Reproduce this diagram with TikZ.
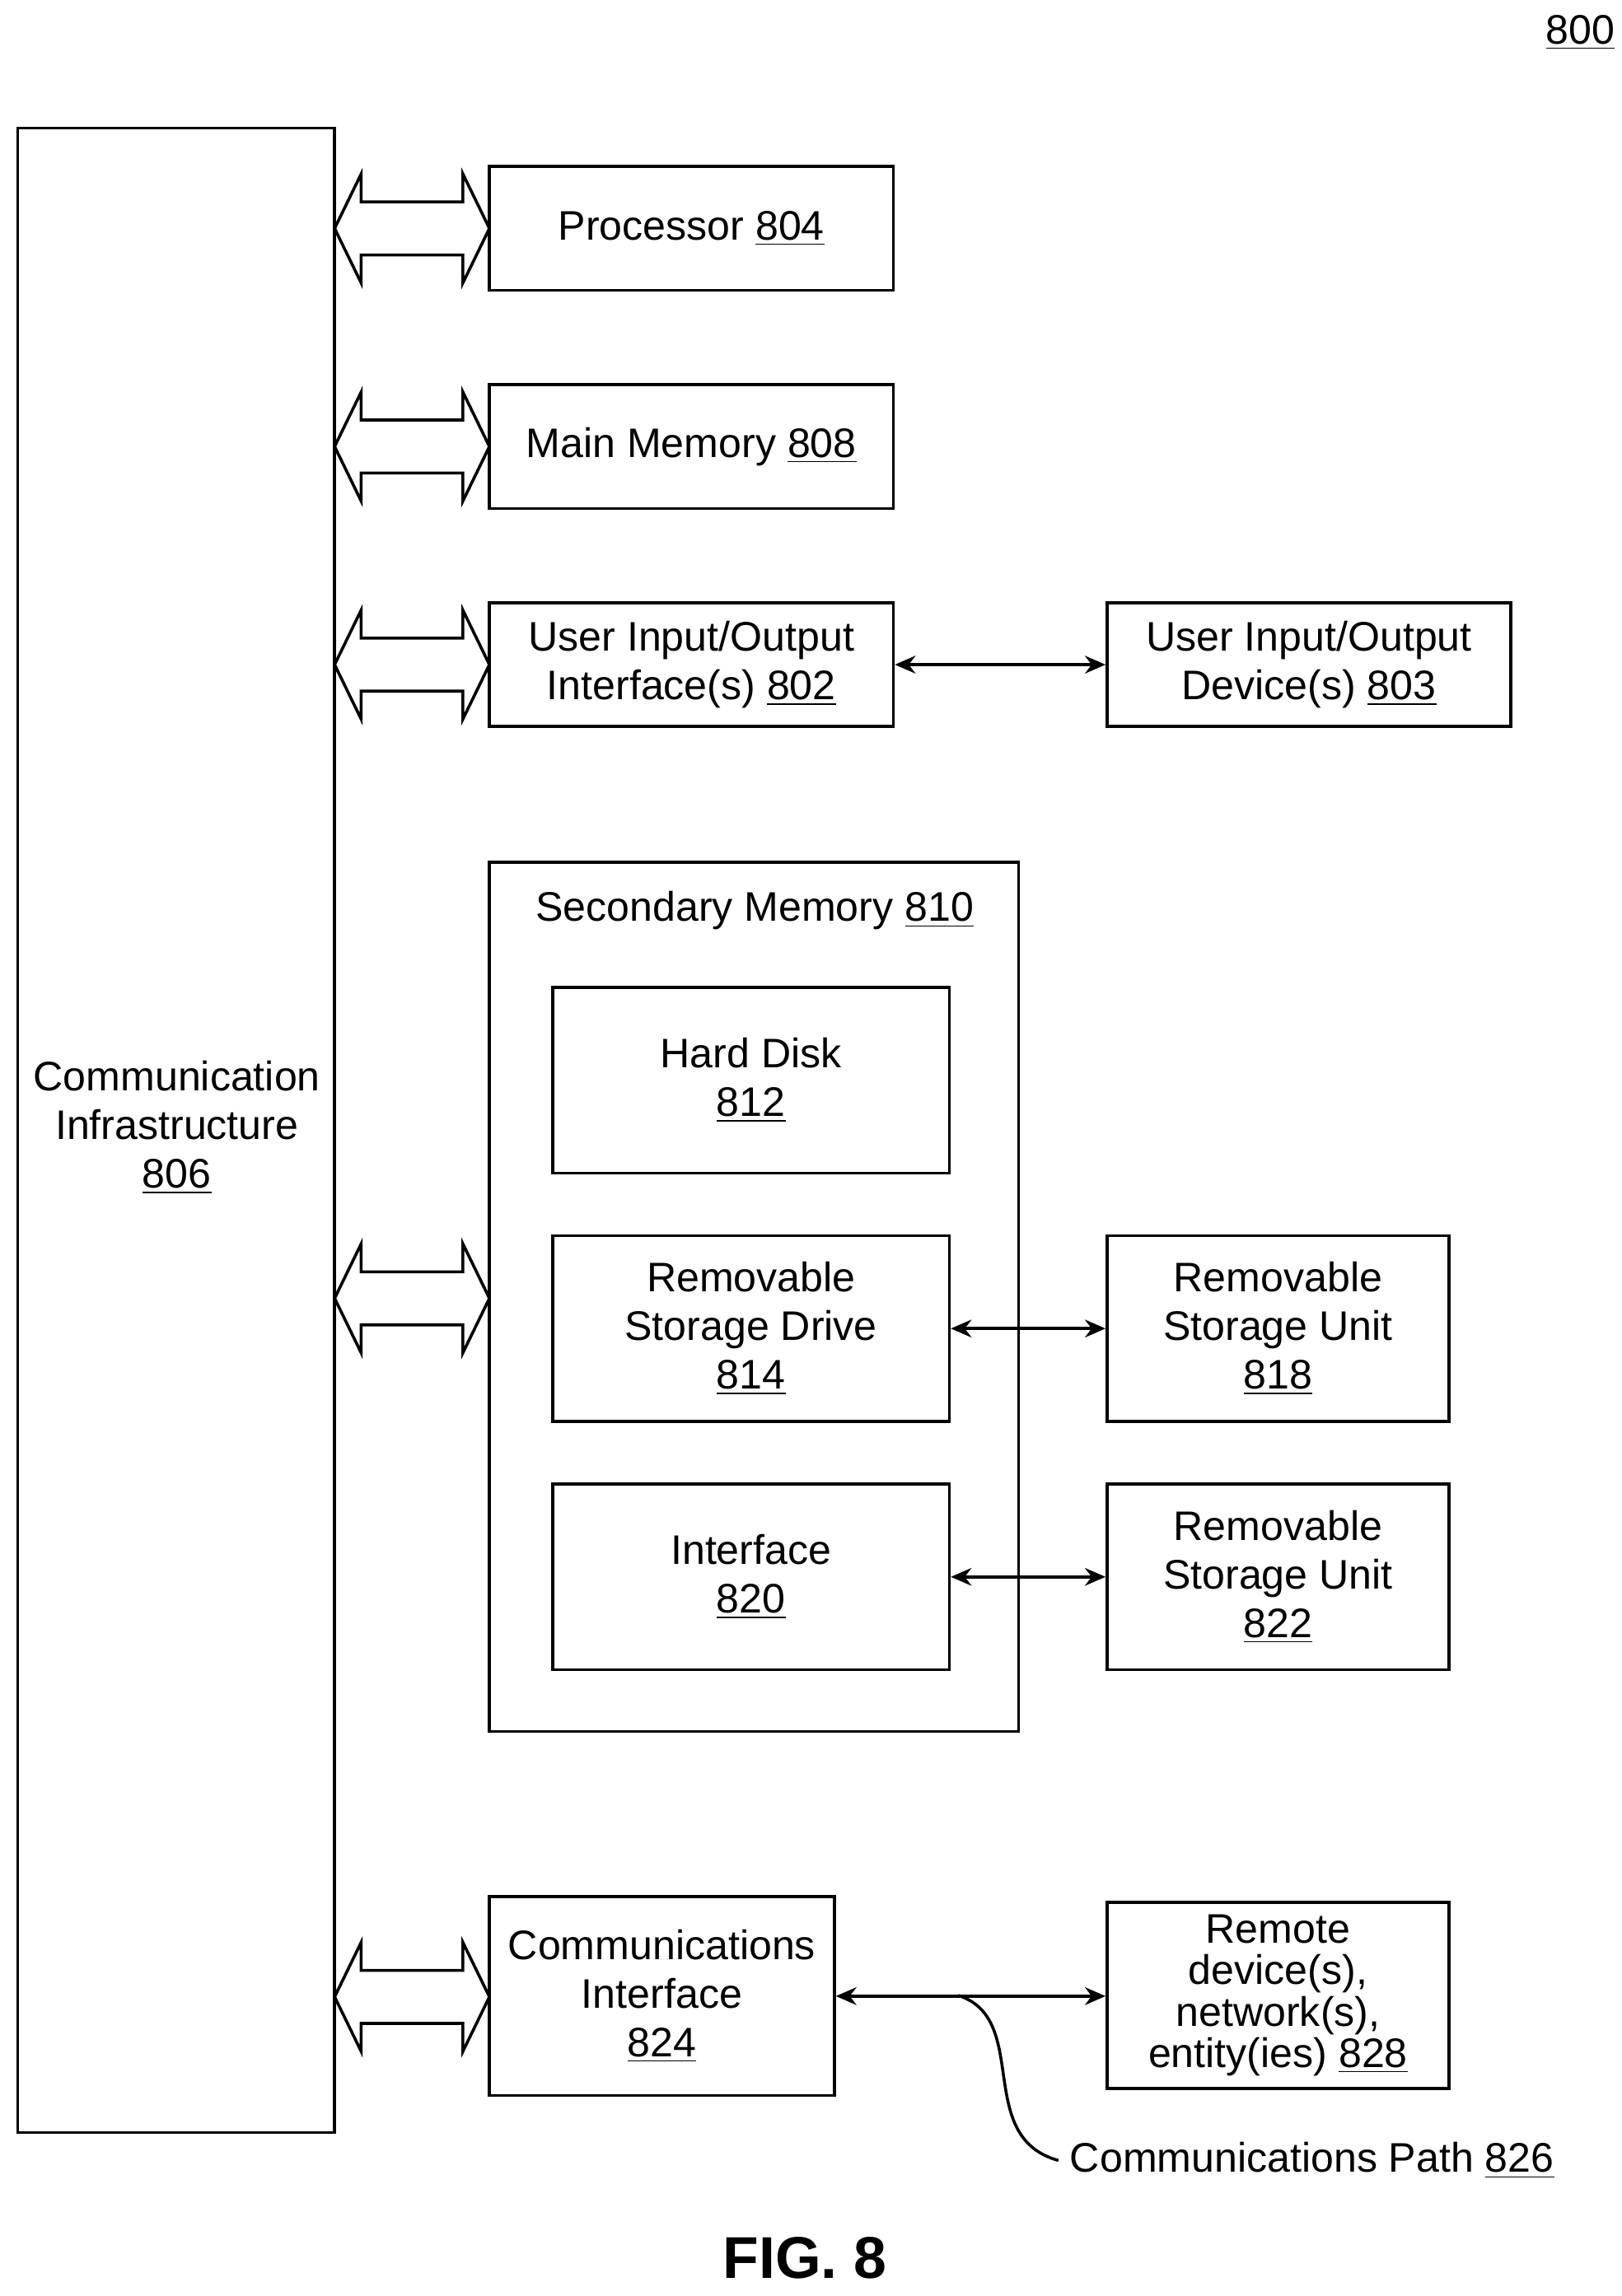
\documentclass[tikz,border=0pt]{standalone}
\usepackage{fontspec}
\setmainfont{Liberation Sans}
\usetikzlibrary{arrows.meta}
\tikzset{
  blk/.style={draw, line width=1pt, inner sep=0pt, align=center},
  txt/.style={inner sep=0.75pt, align=center},
  lnk/.style={line width=1pt, {Stealth[length=7pt,width=6pt]}-{Stealth[length=7pt,width=6pt]}}
}
\begin{document}
\begin{tikzpicture}[x=0.5pt,y=0.5pt,yscale=-1,xscale=1,font=\fontsize{14}{16.5}\selectfont]
    \useasboundingbox (0,0) rectangle (1100,1558);
    % Title number
    \node[txt] (num) at (1072,22) {\underline{800}};
    % Communication infrastructure
    \draw[line width=1pt] (12,87) rectangle (227,1447);
    \node[txt] (infra) at (120,765) {Communication\\Infrastructure\\\underline{806}};
    % Boxes
    \node[blk, minimum width=137pt, minimum height=42pt] (proc) at (469,155) {Processor \underline{804}};
    \node[blk, minimum width=137pt, minimum height=42pt] (mem) at (469,303) {Main Memory \underline{808}};
    \node[blk, minimum width=137pt, minimum height=42pt] (uio) at (469,451) {User Input/Output\\Interface(s) \underline{802}};
    \node[blk, minimum width=137pt, minimum height=42pt] (udev) at (888,451) {User Input/Output\\Device(s) \underline{803}};
    % Secondary memory
    \draw[line width=1pt] (332,585) rectangle (691,1175);
    \node[txt] (sec) at (512,618) {Secondary Memory \underline{810}};
    \node[blk, minimum width=134.5pt, minimum height=63pt] (hd) at (509.5,733) {Hard Disk\\\underline{812}};
    \node[blk, minimum width=134.5pt, minimum height=63pt] (rsd) at (509.5,901.5) {Removable\\Storage Drive\\\underline{814}};
    \node[blk, minimum width=134.5pt, minimum height=63pt] (intf) at (509.5,1070) {Interface\\\underline{820}};
    \node[blk, minimum width=116pt, minimum height=63pt] (rsu1) at (867,901.5) {Removable\\Storage Unit\\\underline{818}};
    \node[blk, minimum width=116pt, minimum height=63pt] (rsu2) at (867,1070) {Removable\\Storage Unit\\\underline{822}};
    % Communications
    \node[blk, minimum width=117pt, minimum height=67.5pt] (comi) at (449,1354.5) {Communications\\Interface\\\underline{824}};
    \node[blk, minimum width=116pt, minimum height=63pt, font=\fontsize{14}{14}\selectfont] (rem) at (867,1354) {Remote\\device(s),\\network(s),\\entity(ies) \underline{828}};
    \node[txt, anchor=west] (path) at (724,1466) {Communications Path \underline{826}};
    \coordinate (tap) at (650,1354);
    % Arrows
    \draw[lnk] (uio) -- (udev);
    \draw[lnk] (rsd) -- (rsu1);
    \draw[lnk] (intf) -- (rsu2);
    \draw[lnk] (comi.east) -- (comi.east -| rem.west);
    \draw[line width=1pt] (tap) .. controls (700,1370) and (660,1450) .. ([xshift=-3pt]path.west);
    % Block arrows to infrastructure
    \foreach \y in {155,303,451,881,1355}
      \draw[line width=1pt] (227,\y) -- (245,\y-37) -- (245,\y-18) -- (314,\y-18) -- (314,\y-37)
        -- (332,\y) -- (314,\y+37) -- (314,\y+18) -- (245,\y+18) -- (245,\y+37) -- cycle;
    % Figure label
    \node[txt, font=\fontsize{20}{24}\selectfont\bfseries] (fig) at (546,1532) {FIG. 8};
\end{tikzpicture}
\end{document}
